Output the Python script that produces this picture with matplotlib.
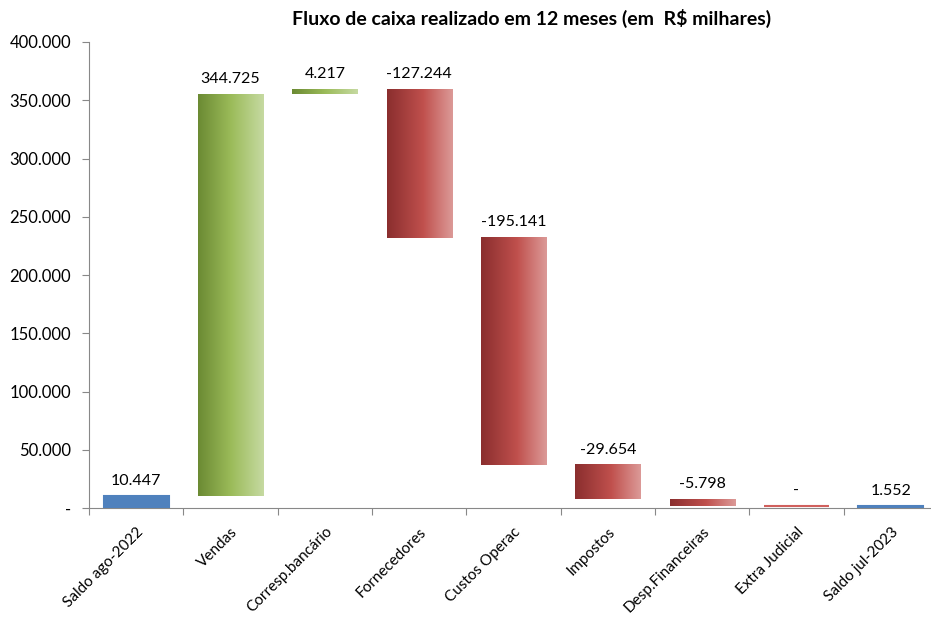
import numpy as np
import matplotlib
matplotlib.use("Agg")
import matplotlib.pyplot as plt
from matplotlib.colors import LinearSegmentedColormap

plt.rcParams['font.family'] = ['Lato', 'DejaVu Sans']

categories = ["Saldo ago-2022", "Vendas", "Corresp.bancário", "Fornecedores",
              "Custos Operac", "Impostos", "Desp.Financeiras", "Extra Judicial",
              "Saldo jul-2023"]
values = [10447, 344725, 4217, -127244, -195141, -29654, -5798, 0, 1552]
kinds = ["total", "delta", "delta", "delta", "delta", "delta", "delta", "delta", "total"]
labels = ["10.447", "344.725", "4.217", "-127.244", "-195.141", "-29.654", "-5.798", "-", "1.552"]
yticks = [0, 50000, 100000, 150000, 200000, 250000, 300000, 350000, 400000]
ytick_labels = ["-", "50.000", "100.000", "150.000", "200.000", "250.000", "300.000", "350.000", "400.000"]

green = LinearSegmentedColormap.from_list("g", [(0, "#6B8A33"), (0.5, "#9BBB59"), (1, "#C6DAA2")])
red = LinearSegmentedColormap.from_list("r", [(0, "#8A2E2E"), (0.55, "#C0504D"), (1, "#DC9A98")])
blue = "#4F81BD"

fig = plt.figure(figsize=(9.31, 6.2), dpi=100)
ax = fig.add_axes([89 / 931, 1 - 508 / 620, 849 / 931, 466 / 620])
ax.set_xlim(0, len(categories))
ax.set_ylim(0, 400000)

grad = np.linspace(0, 1, 256).reshape(1, -1)
w = 0.69
running = 0
for i, (v, k, lab) in enumerate(zip(values, kinds, labels)):
    x0 = i + 0.5 - w / 2
    x1 = i + 0.5 + w / 2
    if k == "total":
        bottom, top = 0, v
        running = v
        ax.bar(i + 0.5, v, width=w, color=blue, edgecolor=blue, linewidth=1.5, zorder=3)
    else:
        start = running
        running = running + v
        bottom, top = min(start, running), max(start, running)
        cmap = green if v > 0 else red
        if top > bottom:
            ax.imshow(grad, cmap=cmap, aspect='auto', extent=[x0, x1, bottom, top],
                      zorder=3, interpolation='bicubic')
        else:
            ax.plot([x0, x1], [bottom, bottom], color="#D0605D", lw=1.5, zorder=3,
                    solid_capstyle='butt')
    ax.text(i + 0.5, top + 7000, lab, ha='center', va='bottom', fontsize=11.5, color='black')

ax.set_yticks(yticks)
ax.set_yticklabels(ytick_labels, fontsize=12)
ax.set_xticks(np.arange(0, len(categories) + 1), minor=False)
ax.set_xticklabels([])
ax.set_xticks(np.arange(len(categories)) + 0.5, minor=True)
ax.set_xticklabels(categories, minor=True, rotation=45, ha='right', rotation_mode='anchor',
                   fontsize=11)
ax.tick_params(axis='x', which='minor', length=0, pad=12)
ax.tick_params(axis='x', which='major', length=5, color='#888888')
ax.tick_params(axis='y', length=5, color='#888888', pad=8)
for s in ['top', 'right']:
    ax.spines[s].set_visible(False)
for s in ['left', 'bottom']:
    ax.spines[s].set_color('#888888')
ax.set_axisbelow(False)

fig.text(532 / 931, 1 - 18 / 620, "Fluxo de caixa realizado em 12 meses (em  R$ milhares)",
         ha='center', va='center', fontsize=14, fontweight='bold')

fig.savefig("out.png", dpi=100)
